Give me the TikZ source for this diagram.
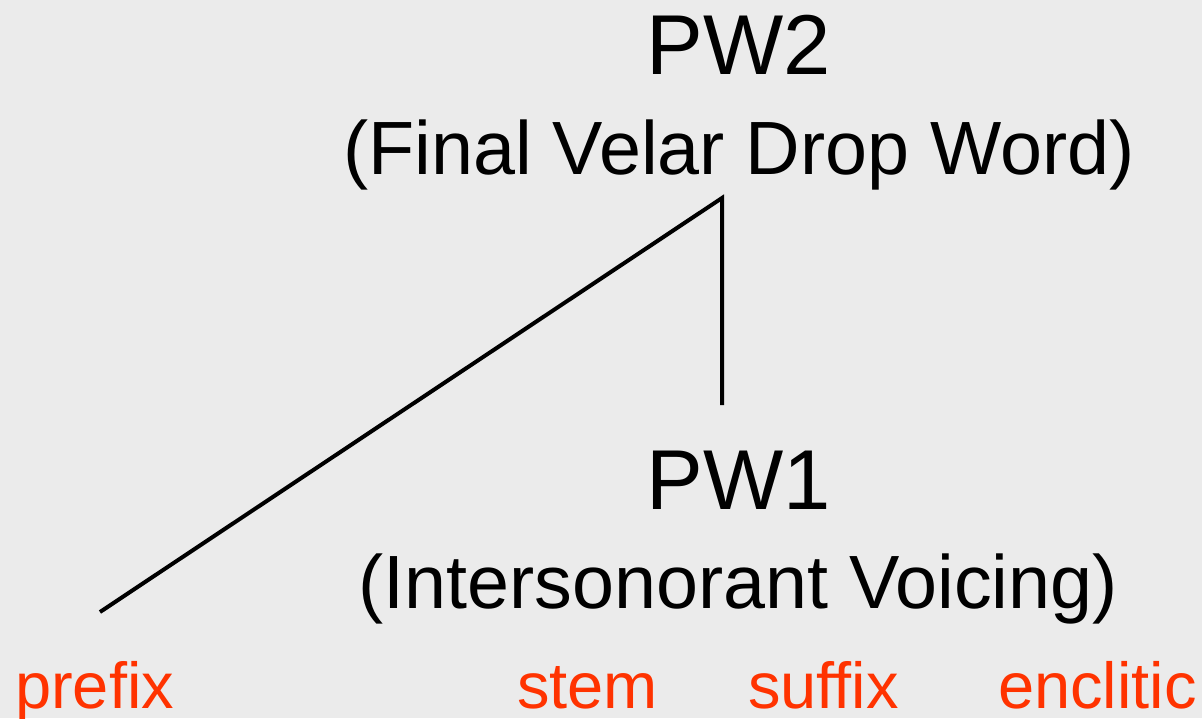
\documentclass[tikz,border=0pt]{standalone}
\usepackage{fontspec}
\setmainfont{Liberation Sans}
\definecolor{bg}{HTML}{EBEBEB}
\definecolor{lab}{HTML}{FF3300}
\begin{document}
\begin{tikzpicture}[x=1pt,y=-1pt,
  big/.style={anchor=base,inner sep=0pt,font=\fontsize{85}{90}\selectfont},
  sub/.style={anchor=base,inner sep=0pt,font=\fontsize{75.5}{80}\selectfont},
  morph/.style={anchor=base west,inner sep=0pt,text=lab,font=\fontsize{65}{70}\selectfont},
  branch/.style={line width=4pt}]
\fill[bg] (0,0) rectangle (1202,718);
\useasboundingbox (0,0) rectangle (1202,718);
\node[big] (pw2) at (739,74) {PW2};
\node[sub] (pw2sub) at (739,174) {(Final Velar Drop Word)};
\node[big] (pw1) at (739,509) {PW1};
\node[sub] (pw1sub) at (738,608) {(Intersonorant Voicing)};
\node[morph] (prefix) at (15,708) {prefix};
\node[morph] (stem) at (517,708) {stem};
\node[morph] (suffix) at (748,708) {suffix};
\node[morph] (enclitic) at (998,708) {enclitic};
\coordinate (top) at (722,198);
\coordinate (left) at (100,612);
\coordinate (down) at (722,405);
\draw[branch] (left) -- (top) -- (down);
\end{tikzpicture}
\end{document}
